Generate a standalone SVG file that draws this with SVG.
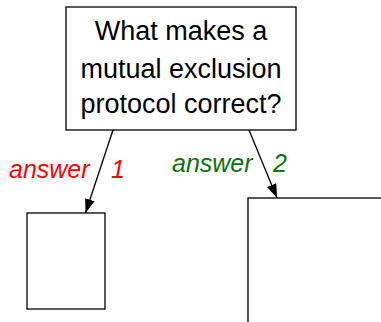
<svg xmlns="http://www.w3.org/2000/svg" width="381" height="322" viewBox="0 0 381 322">
<style>
.box{fill:#fff;stroke:#000;stroke-width:1.3}
.t{font-family:"Liberation Sans",Arial,sans-serif;font-size:27px;fill:#000;text-anchor:middle}
.lbl{font-family:"Liberation Sans",Arial,sans-serif;font-size:25px;font-style:italic}
.edge{stroke:#000;stroke-width:1.3;fill:none;marker-end:url(#ah)}
</style>
<defs>
<marker id="ah" viewBox="0 0 14 10" refX="14" refY="5" markerWidth="14" markerHeight="10" markerUnits="userSpaceOnUse" orient="auto">
<path d="M0,0 L14,5 L0,10 Z" fill="#000"/>
</marker>
</defs>
<g id="edges">
<line class="edge" x1="113" y1="130" x2="85.5" y2="213"/>
<line class="edge" x1="249" y1="130" x2="277" y2="198"/>
</g>
<g id="question">
<rect class="box" x="66" y="7" width="230" height="123"/>
<text class="t" x="181" y="40">What makes a</text>
<text class="t" x="181" y="78">mutual exclusion</text>
<text class="t" x="181" y="113">protocol correct?</text>
</g>
<g id="label1">
<text class="lbl" x="9" y="178" fill="#ff0000">answer <tspan x="111">1</tspan></text>
</g>
<g id="label2">
<text class="lbl" x="172" y="172" fill="#0a720a">answer <tspan x="273">2</tspan></text>
</g>
<g id="answer1">
<rect class="box" x="27" y="213" width="78" height="96"/>
</g>
<g id="answer2">
<rect class="box" x="248" y="198" width="140" height="130"/>
</g>
</svg>
